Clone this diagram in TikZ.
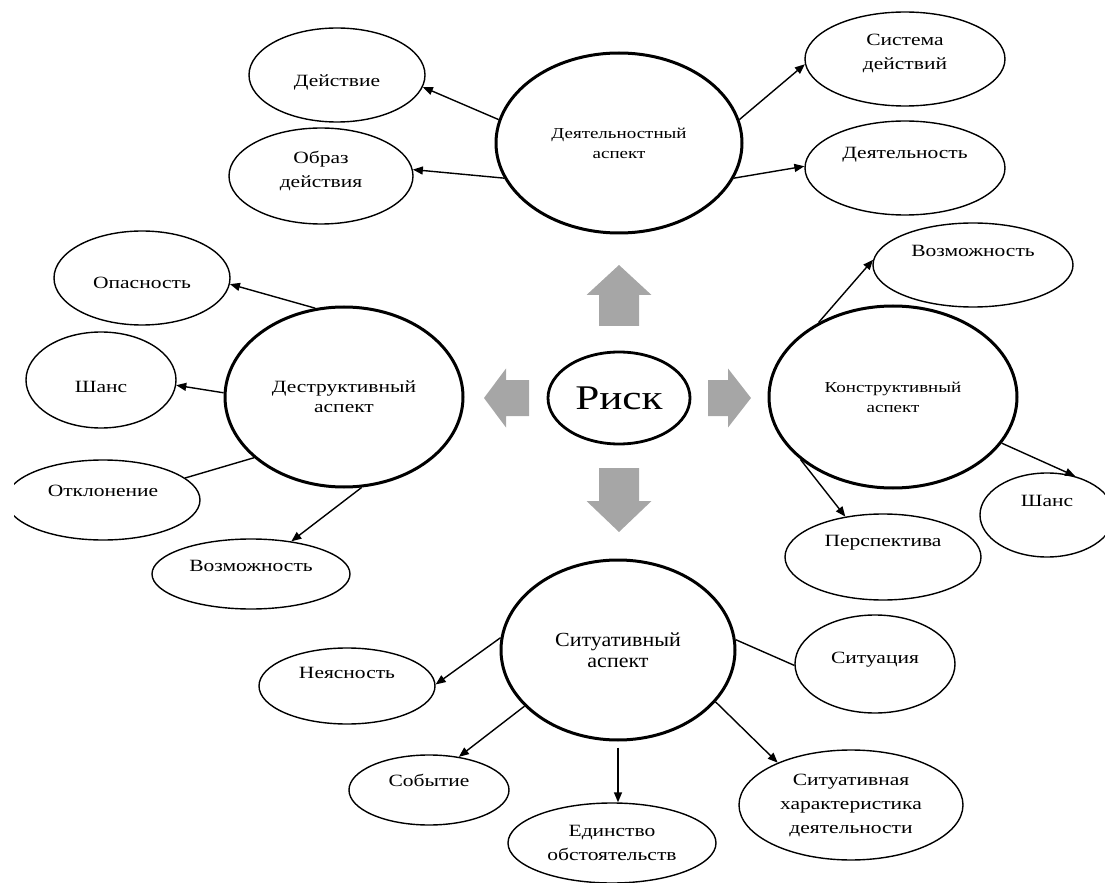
\documentclass[tikz,border=0pt]{standalone}
\usepackage{fontspec}
\setmainfont[FakeStretch=1.25]{Liberation Serif}
\newfontfamily\narrowfont[FakeStretch=1.1]{Liberation Serif}
\usepackage{tikz}
\usetikzlibrary{calc, positioning, shapes.geometric}
\usetikzlibrary{arrows.meta}

\definecolor{arrGray}{HTML}{A6A6A6}

\tikzset{
  sz/.style 2 args={minimum width=#1pt, minimum height=#2pt},
  leaf/.style={ellipse, draw, line width=0.7pt, inner sep=0pt, align=center,
    font=\fontsize{8.6}{12}\selectfont},
  aspect/.style={ellipse, draw, line width=1.5pt, inner sep=0pt, align=center},
  link/.style={line width=0.7pt, -{Triangle[length=5pt,width=4pt]}},
  lineonly/.style={line width=0.7pt},
}

\begin{document}
\begin{tikzpicture}[x=0.5pt, y=-0.5pt]
\useasboundingbox (0,0) rectangle (1105,883);
\clip (14,0) rectangle (1105,883);

%центр
\node[ellipse, draw, line width=1.4pt, sz={71}{46}, inner sep=0pt,
  font=\fontsize{17.3}{17.3}\selectfont] (nRisk) at (619,398) {Риск};

\foreach \ang/\a/\b/\c/\w/\h in {90/72/103/133/20/32.5, 270/70/103/134/20/32.5,
  180/90/113/135/18/29.5, 0/89/109/132/18/29.5}
{
    \begin{scope}[shift={(nRisk.center)}, rotate=\ang]
    \fill[arrGray] (\a,-\w) -- (\b,-\w) -- (\b,-\h) -- (\c,0) -- (\b,\h)
      -- (\b,\w) -- (\a,\w) -- cycle;
    \end{scope}
}

%деятельностный аспект
\node[aspect, sz={123}{90}, font=\fontsize{7.6}{10}\selectfont] (nDeyat) at (619,143) {Деятельностный\\аспект};
\node[leaf, sz={88}{47}, text height=13pt] (nDeystvie) at (337,75) {Действие};
\node[leaf, sz={92}{48}, text depth=7pt] (nObraz) at (321,176) {Образ\\действия};
\node[leaf, sz={100}{47}, text depth=7pt] (nSistema) at (905,59) {Система\\действий};
\node[leaf, sz={100}{47}, text depth=15pt] (nDeyatelnost) at (905,168) {Деятельность};

\draw[link] (nDeyat.169) -- (nDeystvie.-8);
\draw[link] (nDeyat.197) -- (nObraz.4);
\draw[link] (nDeyat.11) -- (nSistema.183);
\draw[link] (nDeyat.-17) -- (nDeyatelnost.179);

%деструктивный аспект
\node[aspect, sz={119}{90}, font=\fontsize{8.6}{10}\selectfont] (nDestr) at (344,397) {Деструктивный\\аспект};
\node[leaf, sz={88}{47}, text height=11pt] (nOpasnost) at (142,278) {Опасность};
\node[leaf, sz={75}{48}, text height=13pt] (nShansL) at (101,380) {Шанс};
\node[leaf, sz={97}{40}, text depth=9pt] (nOtklon) at (103,500) {Отклонение};
\node[leaf, sz={99}{35}, text depth=8pt] (nVozmL) at (251,574) {Возможность};

\draw[link] (nDestr.108) -- (nOpasnost.-4);
\draw[link] (nDestr.178) -- (nShansL.-4);
\draw[lineonly] (nDestr.214) -- (nOtklon.15);
\draw[link] (nDestr.-79) -- (nVozmL.39);

%конструктивный аспект
\node[aspect, sz={124}{91}, font=\fontsize{7.6}{10}\selectfont] (nConstr) at (893,397) {Конструктивный\\аспект};
\node[leaf, sz={100}{42}, text depth=14pt] (nVozmR) at (973,265) {Возможность};
\node[leaf, sz={67}{42}, text depth=14pt] (nShansR) at (1047,515) {Шанс};
\node[leaf, sz={98}{43}, text depth=16pt] (nPersp) at (883,557) {Перспектива};

\draw[link] (nConstr.135) -- (nVozmR.177);
\draw[link] (nConstr.-23) -- (nShansR.54);
\draw[link] (nConstr.214) -- (nPersp.133);

%ситуативный аспект
\node[aspect, sz={117}{90}, font=\narrowfont\fontsize{10}{10.5}\selectfont] (nSit) at (618,650) {Ситуативный\\аспект};
\node[leaf, sz={88}{38}, text depth=13pt] (nNeyasn) at (347,686) {Неясность};
\node[leaf, sz={80}{49}, text depth=6pt] (nSituac) at (875,664) {Ситуация};
\node[leaf, sz={80}{35}, text depth=10pt] (nSobyt) at (429,790) {Событие};
\node[leaf, sz={104}{40}] (nEdinstvo) at (612,843) {Единство\\обстоятельств};
\node[leaf, sz={112}{55}] (nSitHar) at (851,805) {Ситуативная\\характеристика\\деятельности};

\draw[link] (nSit.174) -- (nNeyasn.1);
\draw[lineonly] (nSit.5) -- (nSituac.181);
\draw[link] (nSit.211) -- (nSobyt.48);
\draw[link, shorten <=3pt] (nSit.south) -- (nSit.south |- nEdinstvo.north);
\draw[link] (nSit.-28) -- (nSitHar.150);

\end{tikzpicture}
\end{document}
